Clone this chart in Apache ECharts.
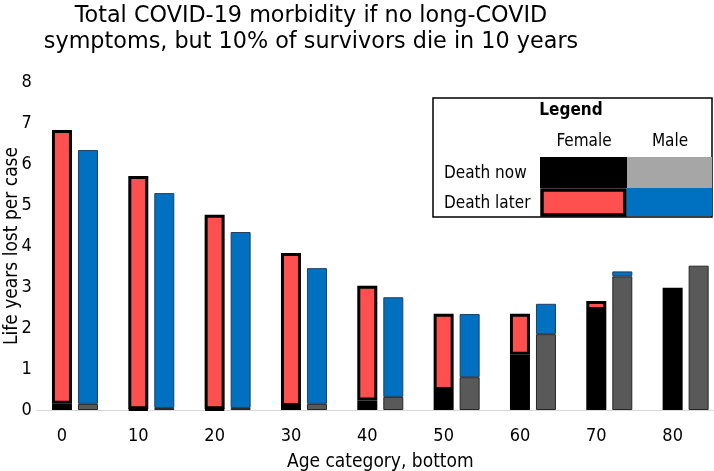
<!DOCTYPE html>
<html><head><meta charset="utf-8">
<script src="https://cdn.jsdelivr.net/npm/echarts@6/dist/echarts.min.js"></script>
<style>html,body{margin:0;padding:0;background:#fff}#c{width:714px;height:471px}</style>
</head><body><div id="c"></div>
<script>
var ages = ['0','10','20','30','40','50','60','70','80'];
var yTicks = [0,1,2,3,4,5,6,7,8];
var femaleNow   = [0.15, 0.02, 0.02, 0.10, 0.23, 0.49, 1.35, 2.44, 2.98];
var femaleLater = [6.68, 5.69, 4.74, 3.73, 2.80, 1.86, 1.00, 0.22, null];
var maleNow     = [0.15, 0.05, 0.05, 0.15, 0.32, 0.80, 1.85, 3.26, 3.52];
var maleLater   = [6.19, 5.24, 4.29, 3.31, 2.43, 1.54, 0.74, 0.12, null];

var FONT = '"DejaVu Sans Condensed", "DejaVu Sans"';
var LFONT = '"DejaVu Sans Condensed", "DejaVu Sans"';
var chart = echarts.init(document.getElementById('c'), null, {renderer:'canvas'});
var legendGraphic = [
  {type:'rect', shape:{x:433,y:98,width:279,height:119}, style:{fill:'#fff',stroke:'#000',lineWidth:1.5}, z:10},
  {type:'text', x:571, y:111, style:{text:'Legend', font:'bold 17px ' + LFONT, fill:'#000', textAlign:'center', textVerticalAlign:'middle'}, z:11},
  {type:'text', x:584, y:142, style:{text:'Female', font:'17px ' + LFONT, fill:'#000', textAlign:'center', textVerticalAlign:'middle'}, z:11},
  {type:'text', x:670, y:142, style:{text:'Male', font:'17px ' + LFONT, fill:'#000', textAlign:'center', textVerticalAlign:'middle'}, z:11},
  {type:'text', x:444, y:174, style:{text:'Death now', font:'17px ' + LFONT, fill:'#000', textAlign:'left', textVerticalAlign:'middle'}, z:11},
  {type:'text', x:444, y:204, style:{text:'Death later', font:'17px ' + LFONT, fill:'#000', textAlign:'left', textVerticalAlign:'middle'}, z:11},
  {type:'rect', shape:{x:540,y:157,width:87,height:31}, style:{fill:'#000'}, z:11},
  {type:'rect', shape:{x:627,y:157,width:85,height:31}, style:{fill:'#a6a6a6'}, z:11},
  {type:'rect', shape:{x:542,y:190,width:83,height:25}, style:{fill:'#ff5050',stroke:'#000',lineWidth:3.5}, z:11},
  {type:'rect', shape:{x:627,y:188,width:85,height:28}, style:{fill:'#0070c0'}, z:11}
];
chart.setOption({
  animation:false,
  backgroundColor:'#fff',
  title:{text:'Total COVID-19 morbidity if no long-COVID\nsymptoms, but 10% of survivors die in 10 years',
    left:306, top:-2, textAlign:'center',
    textStyle:{fontFamily:'"DejaVu Sans"', fontSize:22.3, fontWeight:'normal', color:'#000', lineHeight:26}},
  grid:{left:36.8, top:82, width:687, bottom:61, containLabel:false, outerBoundsMode:'none'},
  xAxis:{type:'category', data:ages,
    name:'Age category, bottom', nameLocation:'middle', nameGap:43,
    nameTextStyle:{fontFamily:FONT, fontSize:19, color:'#000'},
    axisLine:{show:true, lineStyle:{color:'#d9d9d9', width:1}},
    axisTick:{show:false},
    axisLabel:{fontFamily:FONT, fontSize:18, color:'#000', margin:17, padding:[0,26,0,0]}},
  yAxis:{type:'value', min:yTicks[0], max:yTicks[yTicks.length-1], interval:1,
    name:'Life years lost per case', nameLocation:'middle', nameGap:15, nameMoveOverlap:false,
    nameTextStyle:{fontFamily:FONT, fontSize:19, color:'#000'},
    axisLine:{show:false}, axisTick:{show:false}, splitLine:{show:false},
    axisLabel:{fontFamily:FONT, fontSize:18, color:'#000', margin:5}},
  graphic: legendGraphic,
  series:[
    {name:'Female death now', type:'bar', stack:'f', data:femaleNow, barWidth:20, barGap:'30%',
      itemStyle:{color:'#000', borderColor:'#000', borderWidth:3}},
    {name:'Female death later', type:'bar', stack:'f', data:femaleLater, barWidth:20,
      itemStyle:{color:'#ff5050', borderColor:'#000', borderWidth:3}},
    {name:'Male death now', type:'bar', stack:'m', data:maleNow, barWidth:20, barGap:'30%',
      itemStyle:{color:'#595959', borderColor:'#262626', borderWidth:1}},
    {name:'Male death later', type:'bar', stack:'m', data:maleLater, barWidth:20,
      itemStyle:{color:'#0070c0', borderColor:'#1f3f5f', borderWidth:1}}
  ]
});
</script></body></html>
